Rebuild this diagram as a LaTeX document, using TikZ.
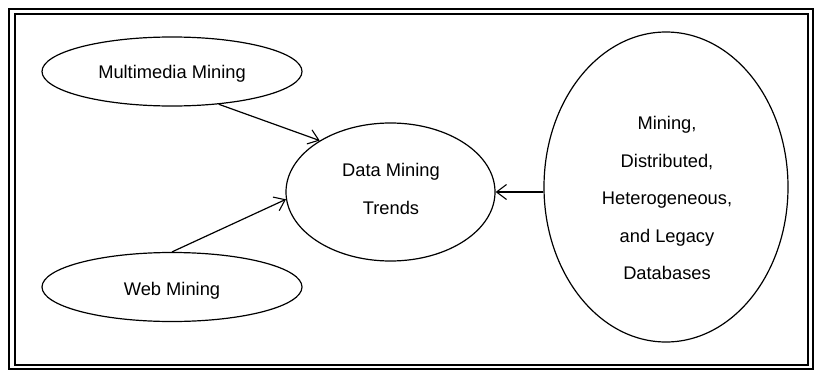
\documentclass[tikz,border=0pt]{standalone}
\usepackage{fontspec}
\setmainfont{Liberation Sans}
\usetikzlibrary{shapes.geometric,arrows.meta}
\tikzset{
  oval/.style={ellipse, draw, line width=1.2pt, inner sep=0pt},
  lbl/.style={align=center, inner sep=0pt, font=\fontsize{18.3}{37.5}\selectfont},
  link/.style={line width=1.2pt, -{Straight Barb[length=10pt,width=15pt,line width=1.1pt]}},
  frame/.style={line width=1.6pt}
}
\begin{document}
\begin{tikzpicture}[x=1pt,y=-1pt]
  \useasboundingbox (0,0) rectangle (816,372);
  % double frame
  \draw[frame] (9,9) rectangle (813,369);
  \draw[frame] (15,14) rectangle (808,365);

  % ellipses
  \node[oval, minimum width=260pt, minimum height=69pt] (M) at (172,71.5) {};
  \node[oval, minimum width=260pt, minimum height=69pt] (W) at (172,287) {};
  \node[oval, minimum width=209pt, minimum height=138pt] (D) at (390.5,192) {};
  \node[oval, minimum width=244pt, minimum height=310pt] (R) at (666,187) {};

  % labels
  \node[lbl] (tM) at (172,74) {Multimedia Mining};
  \node[lbl] (tW) at (172,291) {Web Mining};
  \node[lbl] (tD) at (391,189) {Data Mining\\Trends};
  \node[lbl] (tR) at (667,198) {Mining,\\Distributed,\\Heterogeneous,\\and Legacy\\Databases};

  % connectors
  \draw[link] (M.-35) -- (D.144);
  \draw[link] (W.north) -- (D.184);
  \draw[link] (R.west |- D.east) -- (D.east);
\end{tikzpicture}
\end{document}
